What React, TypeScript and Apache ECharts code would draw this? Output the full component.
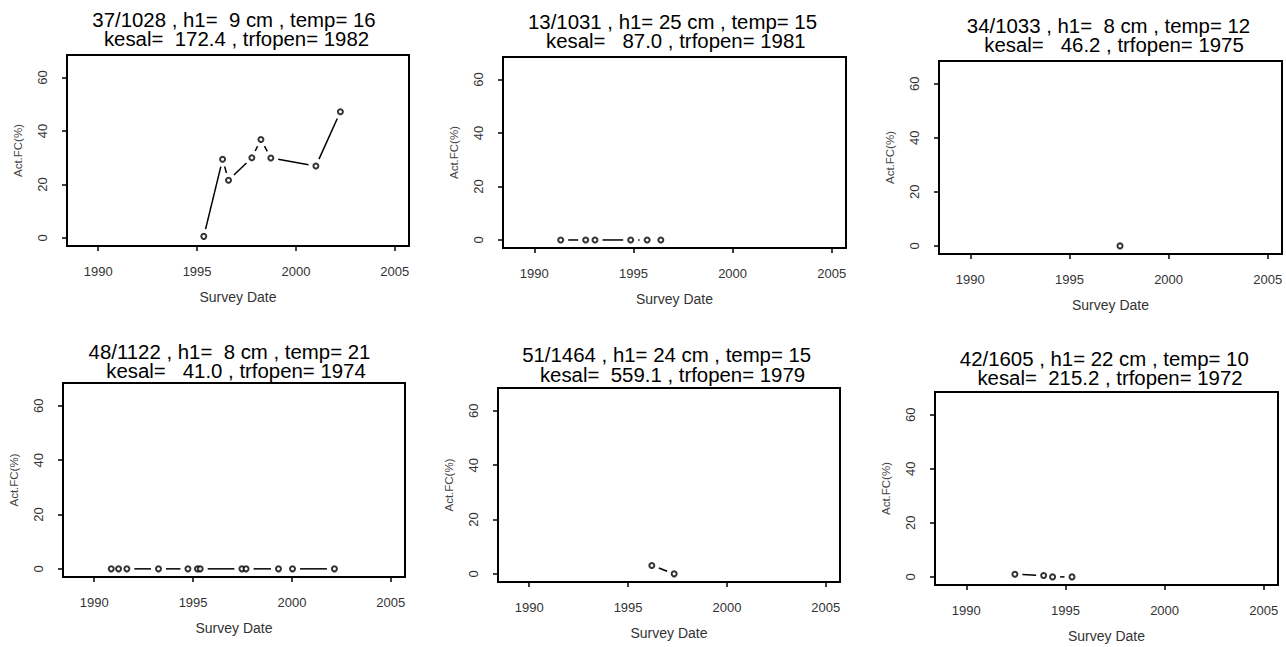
import React, { useEffect, useRef } from "react";
import * as echarts from "echarts";

// ---- data ----
const TITLE_LINE1 = [
  "37/1028 , h1=  9 cm , temp= 16",
  "13/1031 , h1= 25 cm , temp= 15",
  "34/1033 , h1=  8 cm , temp= 12",
  "48/1122 , h1=  8 cm , temp= 21",
  "51/1464 , h1= 24 cm , temp= 15",
  "42/1605 , h1= 22 cm , temp= 10",
];
const TITLE_LINE2 = [
  "kesal=  172.4 , trfopen= 1982",
  "kesal=   87.0 , trfopen= 1981",
  "kesal=   46.2 , trfopen= 1975",
  "kesal=   41.0 , trfopen= 1974",
  "kesal=  559.1 , trfopen= 1979",
  "kesal=  215.2 , trfopen= 1972",
];

const p1Years = [1995.34, 1996.29, 1996.59, 1997.77, 1998.23, 1998.73, 2001.01, 2002.25];
const p1Values = [0.6, 29.4, 21.6, 30.0, 36.8, 29.9, 26.9, 47.2];

const p2Years = [1991.33, 1992.59, 1993.06, 1994.86, 1995.69, 1996.38];
const p2Values = [0, 0, 0, 0, 0, 0];

const p3Years = [1997.55];
const p3Values = [0];

const p4Years = [1990.86, 1991.23, 1991.65, 1993.25, 1994.74, 1995.22, 1995.36, 1997.47, 1997.68, 1999.32, 2000.03, 2002.15];
const p4Values = [0, 0, 0, 0, 0, 0, 0, 0, 0, 0, 0, 0];

const p5Years = [1996.2, 1997.33];
const p5Values = [3.1, 0];

const p6Years = [1992.45, 1993.9, 1994.35, 1995.33];
const p6Values = [1.0, 0.5, 0, 0];

const X_TICKS = [1990, 1995, 2000, 2005];
const Y_TICKS = [0, 20, 40, 60];
const X_MIN = 1988.42;
const X_MAX = 2005.72;
const Y_MIN = -3;
const Y_MAX = 68.4;

const X_NAME = "Survey Date";
const Y_NAME = "Act.FC(%)";

const YEARS = [p1Years, p2Years, p3Years, p4Years, p5Years, p6Years];
const VALUES = [p1Values, p2Values, p3Values, p4Values, p5Values, p6Values];

// ---- layout ----
const GRIDS = [
  { left: 67, top: 55, width: 342, height: 191 },
  { left: 503, top: 57, width: 343, height: 191 },
  { left: 939, top: 61, width: 343, height: 193 },
  { left: 63, top: 383, width: 342, height: 194 },
  { left: 498, top: 388, width: 342, height: 194 },
  { left: 935, top: 392, width: 343, height: 193 },
];
const TITLE_POS = [
  [[234, 20], [236.5, 39.5]],
  [[672.5, 22.5], [675.8, 41.5]],
  [[1108.5, 26.5], [1114, 45]],
  [[229.5, 352], [236, 371]],
  [[666.7, 355.5], [672.5, 375]],
  [[1104.3, 359.5], [1110, 378.5]],
];

const FONT = "'Liberation Sans', Arial, sans-serif";
const GAP = 7.5; // R type = "b": gap (px) between line ends and points

export default function App() {
  const ref = useRef<HTMLDivElement>(null);
  useEffect(() => {
    if (!ref.current) return;
    const chart = echarts.init(ref.current, undefined, { renderer: "svg" });
    const grid = GRIDS.map((g) => ({
      ...g,
      show: true,
      borderColor: "#000",
      borderWidth: 2,
      backgroundColor: "transparent",
      containLabel: false,
      outerBoundsMode: "none",
    }));
    const xAxis = GRIDS.map((_, i) => ({
      type: "value",
      gridIndex: i,
      min: X_MIN,
      max: X_MAX,
      axisLine: { show: false, onZero: false },
      splitLine: { show: false },
      axisTick: { show: true, length: 5, customValues: X_TICKS, lineStyle: { color: "#000", width: 1.5 } },
      axisLabel: {
        customValues: X_TICKS,
        margin: 19,
        fontSize: 13,
        color: "#333",
        fontFamily: FONT,
        formatter: (v: number) => String(v),
      },
      name: X_NAME,
      nameLocation: "middle",
      nameGap: 44,
      nameTextStyle: { fontSize: 14, color: "#333", fontFamily: FONT },
    }));
    const yAxis = GRIDS.map((_, i) => ({
      type: "value",
      gridIndex: i,
      min: Y_MIN,
      max: Y_MAX,
      axisLine: { show: false, onZero: false },
      splitLine: { show: false },
      axisTick: { show: true, length: 5, customValues: Y_TICKS, lineStyle: { color: "#000", width: 1.5 } },
      axisLabel: { show: false },
      name: Y_NAME,
      nameLocation: "middle",
      nameRotate: 90,
      nameGap: 43,
      nameTextStyle: { fontSize: 11.5, color: "#444", fontFamily: FONT },
    }));
    const series: any[] = [];
    YEARS.forEach((yrs, i) => {
      const vals = VALUES[i];
      const segs: number[][] = [];
      for (let j = 0; j < yrs.length - 1; j++) {
        segs.push([yrs[j], vals[j], yrs[j + 1], vals[j + 1]]);
      }
      series.push({
        type: "custom",
        xAxisIndex: i,
        yAxisIndex: i,
        data: segs,
        encode: { x: [0, 2], y: [1, 3] },
        renderItem: (_params: any, api: any) => {
          const a = api.coord([api.value(0), api.value(1)]);
          const b = api.coord([api.value(2), api.value(3)]);
          const dx = b[0] - a[0];
          const dy = b[1] - a[1];
          const L = Math.hypot(dx, dy);
          if (L <= 2 * GAP) return null;
          const ux = dx / L;
          const uy = dy / L;
          return {
            type: "line",
            shape: {
              x1: a[0] + ux * GAP,
              y1: a[1] + uy * GAP,
              x2: b[0] - ux * GAP,
              y2: b[1] - uy * GAP,
            },
            style: { stroke: "#000", lineWidth: 1.5 },
          };
        },
      });
      series.push({
        type: "scatter",
        xAxisIndex: i,
        yAxisIndex: i,
        data: yrs.map((y, j) => [y, vals[j]]),
        symbol: "emptyCircle",
        symbolSize: 5,
        itemStyle: { color: "#000", borderWidth: 1.5 },
      });
    });
    const elements: any[] = [];
    TITLE_POS.forEach((pos, i) => {
      [TITLE_LINE1[i], TITLE_LINE2[i]].forEach((t, k) => {
        elements.push({
          type: "text",
          x: pos[k][0],
          y: pos[k][1],
          scaleX: 1.02,
          style: {
            text: t,
            fontSize: 20,
            fontFamily: FONT,
            fill: "#000",
            align: "center",
            verticalAlign: "middle",
          },
        });
      });
    });
    chart.setOption({
      animation: false,
      backgroundColor: "#fff",
      grid,
      xAxis,
      yAxis,
      series,
      graphic: { elements },
    } as any);

    // rotated y tick labels (R style, parallel to axis), placed via the axis scale
    const labelEls: any[] = [];
    GRIDS.forEach((_, i) => {
      Y_TICKS.forEach((v) => {
        const p = chart.convertToPixel({ gridIndex: i } as any, [X_MIN, v]) as number[];
        labelEls.push({
          type: "text",
          x: p[0] - 25,
          y: p[1],
          rotation: Math.PI / 2,
          style: {
            text: String(v),
            fontSize: 13,
            fontFamily: FONT,
            fill: "#333",
            align: "center",
            verticalAlign: "middle",
          },
        });
      });
    });
    chart.setOption({ graphic: { elements: [...elements, ...labelEls] } } as any);
    return () => chart.dispose();
  }, []);
  return (
    <div
      ref={ref}
      style={{ position: "fixed", left: 0, top: 0, width: 1286, height: 647 }}
    />
  );
}
